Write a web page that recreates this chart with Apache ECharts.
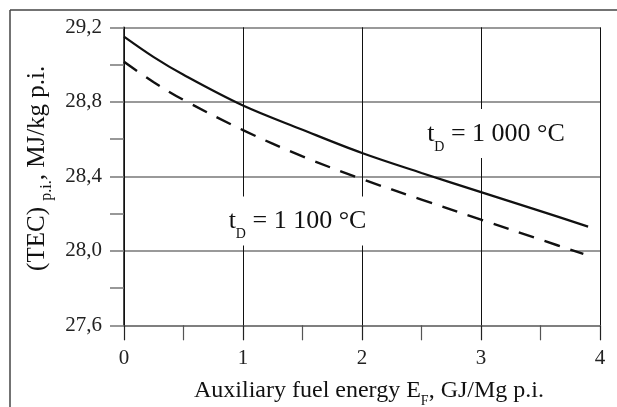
<!DOCTYPE html>
<html>
<head>
<meta charset="utf-8">
<script src="https://cdn.jsdelivr.net/npm/echarts@6/dist/echarts.min.js"></script>
<style>html,body{margin:0;padding:0;background:#fff;}#c{width:617px;height:407px;}</style>
</head>
<body>
<div id="c"></div>
<script>
// Data
const energy1000 = [0, 0.25, 0.5, 1, 1.5, 2, 2.5, 3, 3.5, 3.9];
const tec1000 = [29.15, 29.04, 28.945, 28.78, 28.65, 28.525, 28.418, 28.315, 28.213, 28.13];
const energy1100 = [0, 0.25, 0.5, 1, 1.5, 2, 2.5, 3, 3.5, 3.86];
const tec1100 = [29.015, 28.905, 28.81, 28.648, 28.507, 28.385, 28.275, 28.167, 28.06, 27.983];
const label1000Pos = [3.126, 28.63];
const label1100Pos = [1.458, 28.16];
const label1000 = '1 000 °C';
const label1100 = '1 100 °C';

const FONT = 'Liberation Serif';
const pairs = (xs, ys) => xs.map((x, i) => [x, ys[i]]);
const annot = (txt) => '{t|t}{s|D}{t| = ' + txt + '}';
const annotRich = {
  t: {fontFamily: FONT, fontSize: 26, color: '#111', lineHeight: 40, verticalAlign: 'middle'},
  s: {fontFamily: FONT, fontSize: 14, color: '#111', lineHeight: 14, verticalAlign: 'bottom'}
};

const chart = echarts.init(document.getElementById('c'), null, {renderer: 'canvas'});
chart.setOption({
  animation: false,
  backgroundColor: '#fff',
  grid: {left: 124, right: 17, top: 27.3, bottom: 81.7, containLabel: false, outerBoundsMode: 'none'},
  graphic: [
    {type: 'line', shape: {x1: 10, y1: 10, x2: 617, y2: 10}, style: {stroke: '#444', lineWidth: 1.5}},
    {type: 'line', shape: {x1: 10, y1: 10, x2: 10, y2: 407}, style: {stroke: '#444', lineWidth: 1.5}}
  ],
  xAxis: {
    type: 'value', min: 0, max: 4, interval: 1,
    name: 'Auxiliary fuel energy E{s|F}, GJ/Mg p.i.',
    nameLocation: 'middle', nameGap: 52,
    nameTextStyle: {fontFamily: FONT, fontSize: 24, color: '#111', lineHeight: 34, verticalAlign: 'middle',
      padding: [0, 0, 0, 14],
      rich: {s: {fontFamily: FONT, fontSize: 14, color: '#111', lineHeight: 14, verticalAlign: 'bottom'}}},
    axisLine: {show: true, lineStyle: {color: '#777', width: 1.5}},
    axisTick: {show: true, length: 15, lineStyle: {color: '#222', width: 1.2}},
    minorTick: {show: true, splitNumber: 2, length: 15, lineStyle: {color: '#555', width: 1.2}},
    axisLabel: {fontFamily: FONT, fontSize: 21, color: '#222', margin: 23},
    splitLine: {show: true, lineStyle: {color: '#111', width: 1}}
  },
  yAxis: {
    type: 'value', min: 27.6, max: 29.2, interval: 0.4,
    name: '(TEC) {s|p.i.}, MJ/kg p.i.',
    nameLocation: 'middle', nameGap: 66, nameRotate: 90,
    nameTextStyle: {fontFamily: FONT, fontSize: 25, color: '#111', lineHeight: 34, verticalAlign: 'middle',
      padding: [0, 0, 0, 16],
      rich: {s: {fontFamily: FONT, fontSize: 16, color: '#111', lineHeight: 16, verticalAlign: 'bottom'}}},
    axisLine: {show: true, lineStyle: {color: '#111', width: 1.5}},
    axisTick: {show: true, length: 14, lineStyle: {color: '#777', width: 1.5}},
    minorTick: {show: true, splitNumber: 2, length: 14, lineStyle: {color: '#777', width: 1.5}},
    axisLabel: {fontFamily: FONT, fontSize: 21, color: '#222', margin: 22,
      formatter: v => v.toFixed(1).replace('.', ',')},
    splitLine: {show: true, lineStyle: {color: '#777', width: 1.5}}
  },
  series: [
    {
      name: 't_D = 1000 °C', type: 'line', data: pairs(energy1000, tec1000),
      smooth: 0.35, showSymbol: false, symbol: 'none',
      lineStyle: {color: '#111', width: 2.2, type: 'solid'},
      markPoint: {
        symbol: 'rect', symbolSize: 1, itemStyle: {color: 'rgba(0,0,0,0)'},
        label: {show: true, position: 'inside', backgroundColor: '#fff', padding: [5, 6, 4, 6],
          formatter: annot(label1000), rich: annotRich},
        data: [{coord: label1000Pos}]
      }
    },
    {
      name: 't_D = 1100 °C', type: 'line', data: pairs(energy1100, tec1100),
      smooth: 0.35, showSymbol: false, symbol: 'none',
      lineStyle: {color: '#111', width: 2.4, type: [16, 11]},
      markPoint: {
        symbol: 'rect', symbolSize: 1, itemStyle: {color: 'rgba(0,0,0,0)'},
        label: {show: true, position: 'inside', backgroundColor: '#fff', padding: [5, 6, 4, 6],
          formatter: annot(label1100), rich: annotRich},
        data: [{coord: label1100Pos}]
      }
    }
  ]
});
</script>
</body>
</html>
